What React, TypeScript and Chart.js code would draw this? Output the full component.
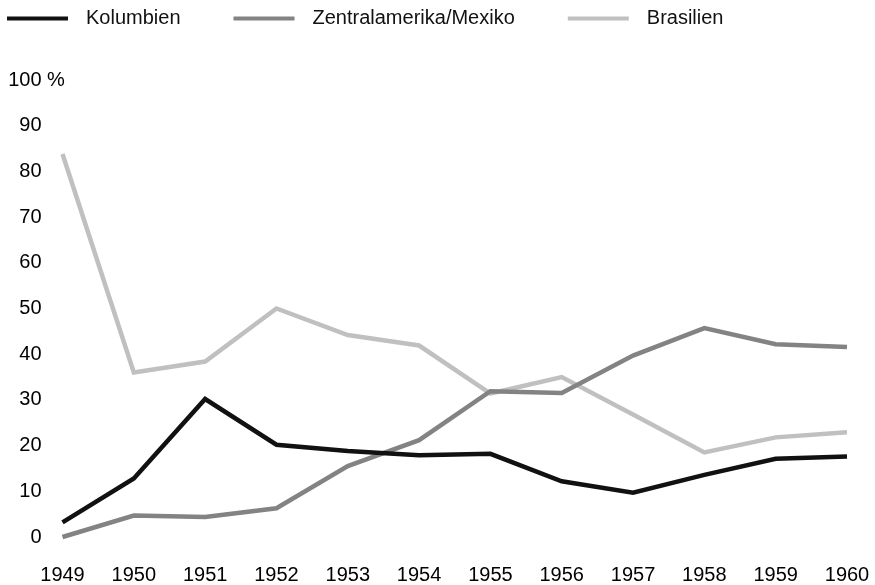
import React, { useEffect, useRef } from "react";
import { Chart, registerables } from "chart.js";

Chart.register(...registerables);

const years = ["1949", "1950", "1951", "1952", "1953", "1954", "1955", "1956", "1957", "1958", "1959", "1960"];
const kolumbien = [3.2, 12.8, 30.2, 20.2, 18.8, 17.9, 18.2, 12.2, 9.7, 13.6, 17.1, 17.6];
const zentralamerika = [0, 4.7, 4.4, 6.3, 15.5, 21.2, 31.9, 31.5, 39.7, 45.7, 42.2, 41.6];
const brasilien = [83.8, 36.0, 38.4, 50.0, 44.2, 41.9, 31.4, 35.0, 26.8, 18.5, 21.8, 22.9];
const seriesNames = ["Kolumbien", "Zentralamerika/Mexiko", "Brasilien"];
const seriesColors = ["#111111", "#838383", "#c0c0c0"];

const FONT = "'Liberation Sans', Arial, sans-serif";

const legendPlugin = {
  id: "customLegend",
  afterDraw(chart: any) {
    const ctx = chart.ctx;
    ctx.save();
    ctx.font = `20px ${FONT}`;
    ctx.textBaseline = "middle";
    ctx.textAlign = "left";
    let x = 7;
    const y = 18.5;
    chart.data.datasets.forEach((ds: any) => {
      ctx.strokeStyle = ds.borderColor;
      ctx.lineWidth = 4;
      ctx.beginPath();
      ctx.moveTo(x, y);
      ctx.lineTo(x + 61, y);
      ctx.stroke();
      ctx.fillStyle = "#111111";
      ctx.fillText(ds.label, x + 79, y);
      x += 79 + ctx.measureText(ds.label).width + 53;
    });
    ctx.restore();
  },
};

const percentPlugin = {
  id: "percentSign",
  afterDraw(chart: any) {
    const ctx = chart.ctx;
    const yScale = chart.scales.y;
    ctx.save();
    ctx.font = `20px ${FONT}`;
    ctx.fillStyle = "#000000";
    ctx.textAlign = "left";
    ctx.textBaseline = "middle";
    ctx.fillText(" %", yScale.right - 21, yScale.getPixelForValue(100));
    ctx.restore();
  },
};

export default function App() {
  const ref = useRef<HTMLCanvasElement | null>(null);
  useEffect(() => {
    if (!ref.current) return;
    const datasets = [kolumbien, zentralamerika, brasilien].map((d, i) => ({
      label: seriesNames[i],
      data: d,
      borderColor: seriesColors[i],
      backgroundColor: seriesColors[i],
      borderWidth: 4.5,
      pointRadius: 0,
      tension: 0,
      fill: false,
      clip: false as any,
      order: i,
      borderJoinStyle: "miter" as const,
    }));
    const chart = new Chart(ref.current, {
      type: "line",
      data: { labels: years, datasets: datasets as any },
      options: {
        animation: false,
        responsive: true,
        maintainAspectRatio: false,
        layout: { padding: { top: 80, right: 28, left: 0, bottom: 0 } },
        plugins: { legend: { display: false }, tooltip: { enabled: false } },
        scales: {
          x: {
            offset: false,
            grid: { display: false, drawTicks: false, tickLength: 0 },
            border: { display: false },
            ticks: { color: "#000000", font: { family: FONT, size: 20 }, padding: 26, maxRotation: 0, autoSkip: false },
            afterFit: (s: any) => { s.height = 48; s.paddingLeft = 0; s.paddingRight = 0; },
          },
          y: {
            min: 0,
            max: 100,
            grid: { display: false, drawTicks: false, tickLength: 0 },
            border: { display: false },
            ticks: { stepSize: 10, color: "#000000", font: { family: FONT, size: 20 }, padding: 21 },
            afterFit: (s: any) => { s.width = 62.5; s.paddingTop = 0; s.paddingBottom = 0; },
          },
        },
      },
      plugins: [legendPlugin, percentPlugin],
    });
    return () => chart.destroy();
  }, []);
  return (
    <div style={{ position: "fixed", left: 0, top: 0, width: 875, height: 585, background: "#fff" }}>
      <canvas ref={ref} />
    </div>
  );
}
